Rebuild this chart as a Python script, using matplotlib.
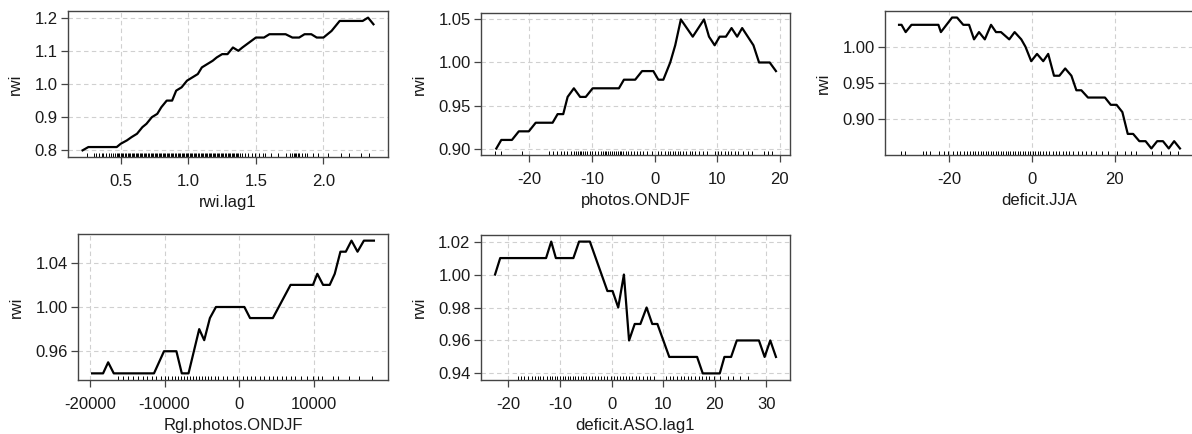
import matplotlib
matplotlib.use("Agg")
import matplotlib.pyplot as plt
from matplotlib.ticker import FormatStrFormatter

plt.rcParams['font.family'] = ['Liberation Sans', 'DejaVu Sans']

# partial dependence curves
rwi_lag1_x = [0.217, 0.26, 0.47, 0.5, 0.545, 0.58, 0.62, 0.66, 0.69, 0.73, 0.77, 0.80, 0.84, 0.88,
              0.91, 0.95, 0.99, 1.03, 1.07, 1.10, 1.14, 1.18, 1.21, 1.25, 1.29, 1.33, 1.37, 1.40,
              1.50, 1.56, 1.60, 1.72, 1.77, 1.82, 1.86, 1.91, 1.95, 2.00, 2.06, 2.12, 2.29, 2.33, 2.37]
rwi_lag1_y = [0.80, 0.81, 0.81, 0.82, 0.83, 0.84, 0.85, 0.87, 0.88, 0.90, 0.91, 0.93, 0.95, 0.95,
              0.98, 0.99, 1.01, 1.02, 1.03, 1.05, 1.06, 1.07, 1.08, 1.09, 1.09, 1.11, 1.10, 1.11,
              1.14, 1.14, 1.15, 1.15, 1.14, 1.14, 1.15, 1.15, 1.14, 1.14, 1.16, 1.19, 1.19, 1.20, 1.18]

photos_x = [-25.3, -24.5, -22.8, -21.7, -20.1, -19.0, -16.3, -15.5, -14.6, -13.9, -12.9, -11.9, -11.0,
            -9.9, -5.7, -4.9, -3.1, -2.0, -0.2, 0.6, 1.4, 2.5, 3.3, 4.2, 6.1, 7.9, 8.7, 9.6, 10.4,
            11.4, 12.3, 13.2, 14.0, 14.9, 15.8, 16.7, 18.4, 19.4]
photos_y = [0.90, 0.91, 0.91, 0.92, 0.92, 0.93, 0.93, 0.94, 0.94, 0.96, 0.97, 0.96, 0.96,
            0.97, 0.97, 0.98, 0.98, 0.99, 0.99, 0.98, 0.98, 1.00, 1.02, 1.05, 1.03, 1.05, 1.03, 1.02, 1.03,
            1.03, 1.04, 1.03, 1.04, 1.03, 1.02, 1.00, 1.00, 0.99]

deficit_jja_x = [-32.1, -31.5, -30.5, -29.1, -22.6, -22.0, -19.3, -18.1, -16.6, -15.2, -14.0, -12.8,
                 -11.4, -9.9, -8.7, -7.5, -5.5, -4.2, -2.6, -1.6, -0.2, 1.2, 2.7, 3.9, 5.3, 6.6, 8.0,
                 9.5, 10.7, 11.9, 13.5, 17.6, 19.0, 20.4, 21.8, 23.1, 24.4, 25.9, 27.4, 28.8, 30.2,
                 31.6, 33.0, 34.3, 35.7]
deficit_jja_y = [1.03, 1.03, 1.02, 1.03, 1.03, 1.02, 1.04, 1.04, 1.03, 1.03, 1.01, 1.02,
                 1.01, 1.03, 1.02, 1.02, 1.01, 1.02, 1.01, 1.00, 0.98, 0.99, 0.98, 0.99, 0.96, 0.96, 0.97,
                 0.96, 0.94, 0.94, 0.93, 0.93, 0.92, 0.92, 0.91, 0.88, 0.88, 0.87, 0.87, 0.86, 0.87,
                 0.87, 0.86, 0.87, 0.86]

rgl_x = [-19700, -18230, -17550, -16800, -11420, -10080, -8420, -7700, -6800, -5370, -4700, -3940,
         -3130, 670, 1430, 4480, 6850, 9850, 10430, 11200, 12090, 12760, 13520, 14240, 15000,
         15810, 16660, 18000]
rgl_y = [0.94, 0.94, 0.95, 0.94, 0.94, 0.96, 0.96, 0.94, 0.94, 0.98, 0.97, 0.99,
         1.00, 1.00, 0.99, 0.99, 1.02, 1.02, 1.03, 1.02, 1.02, 1.03, 1.05, 1.05, 1.06,
         1.05, 1.06, 1.06]

aso_x = [-22.6, -21.6, -12.7, -11.7, -10.8, -7.4, -6.3, -4.2, -0.8, 0.2, 1.3, 2.4, 3.4, 4.5, 5.6,
         6.8, 7.9, 8.9, 11.2, 16.6, 17.7, 21.0, 21.9, 23.2, 24.3, 28.6, 29.7, 30.8, 31.9]
aso_y = [1.00, 1.01, 1.01, 1.02, 1.01, 1.01, 1.02, 1.02, 0.99, 0.99, 0.98, 1.00, 0.96, 0.97, 0.97,
         0.98, 0.97, 0.97, 0.95, 0.95, 0.94, 0.94, 0.95, 0.95, 0.96, 0.96, 0.95, 0.96, 0.95]

# rug marks (observed predictor values)
rug_rwi = [0.25, 0.30, 0.32, 0.34, 0.36, 0.37, 0.39, 0.41, 0.43, 0.44, 0.46, 0.47, 0.48, 0.49, 0.50,
           0.51, 0.52, 0.53, 0.54, 0.55, 0.56, 0.57, 0.58, 0.59, 0.60, 0.61, 0.62, 0.63, 0.64, 0.65,
           0.66, 0.67, 0.68, 0.69, 0.70, 0.71, 0.72, 0.73, 0.74, 0.75, 0.76, 0.77, 0.78, 0.79, 0.80,
           0.81, 0.82, 0.83, 0.84, 0.85, 0.86, 0.87, 0.88, 0.89, 0.90, 0.91, 0.92, 0.93, 0.94, 0.95,
           0.96, 0.97, 0.98, 0.99, 1.00, 1.01, 1.02, 1.03, 1.04, 1.05, 1.06, 1.07, 1.08, 1.09, 1.10,
           1.11, 1.12, 1.13, 1.14, 1.15, 1.16, 1.17, 1.18, 1.19, 1.20, 1.21, 1.22, 1.23, 1.24, 1.25,
           1.26, 1.27, 1.28, 1.29, 1.30, 1.31, 1.32, 1.33, 1.34, 1.35, 1.36, 1.37, 1.38, 1.40, 1.42,
           1.44, 1.47, 1.49, 1.52, 1.55, 1.57, 1.61, 1.66, 1.72, 1.75, 1.77, 1.78, 1.79, 1.80, 1.81,
           1.82, 1.84, 1.86, 1.88, 1.92, 1.96, 2.03, 2.13, 2.19, 2.28, 2.34]
rug_photos = [-25.5, -24.6, -21.2, -16.9, -16.2, -15.6, -15.0, -14.5, -14.0, -13.4, -12.9, -12.6,
              -12.3, -12.0, -11.7, -11.4, -11.1, -10.8, -10.4, -10.0, -9.5, -9.0, -8.6, -8.3, -8.0,
              -7.7, -7.4, -7.1, -6.8, -6.5, -6.2, -5.9, -5.6, -5.3, -5.0, -4.6, -4.2, -3.8, -3.3,
              -2.8, -2.3, -1.8, -1.2, -0.4, 0.5, 1.0, 1.6, 2.1, 2.5, 2.9, 3.3, 3.7, 4.1, 4.6, 5.1,
              5.6, 6.0, 6.5, 7.1, 7.7, 8.4, 9.6, 10.1, 10.6, 11.2, 11.7, 12.2, 12.8, 13.4, 14.1,
              15.0, 15.6, 17.5, 18.2, 18.8]
rug_jja = [-31.6, -30.6, -26.3, -25.5, -24.6, -22.4, -21.3, -20.2, -19.1, -18.2, -17.3, -16.4, -15.6,
           -15.0, -14.3, -13.7, -13.0, -12.4, -11.8, -11.2, -10.6, -10.0, -9.4, -8.8, -8.2, -7.6,
           -7.0, -6.4, -5.8, -5.2, -4.6, -4.0, -3.4, -2.8, -2.2, -1.6, -1.0, -0.4, 0.2, 0.8, 1.4,
           2.0, 2.6, 3.4, 4.2, 5.0, 5.8, 6.6, 7.4, 8.2, 9.0, 10.0, 11.0, 12.0, 13.0, 14.2, 15.4,
           16.8, 18.3, 20.4, 22.5, 23.8, 25.1, 29.0, 31.2, 33.4, 35.3]
rug_rgl = [-16200, -15600, -14900, -14200, -13500, -12900, -12300, -11700, -11100, -10500, -10000,
           -9500, -9000, -8600, -8200, -7800, -7400, -7000, -6600, -6200, -5800, -5400, -5000,
           -4600, -4200, -3800, -3300, -2800, -2200, -1600, -900, -300, 500, 1000, 1500, 2100,
           2700, 3300, 3900, 4500, 5100, 5700, 6300, 6900, 7500, 8200, 9000, 9800, 10500, 11000,
           12500, 13200, 14700, 16000, 17800]
rug_aso = [-18.2, -17.6, -16.9, -16.2, -15.5, -14.9, -14.3, -13.8, -13.2, -12.6, -12.0, -11.5, -11.0,
           -10.5, -10.0, -9.5, -9.0, -8.5, -8.0, -7.5, -7.0, -6.5, -6.0, -5.5, -5.0, -4.4, -3.8,
           -3.2, -2.6, -2.0, -1.4, -0.8, -0.2, 0.4, 1.0, 1.6, 2.2, 2.8, 3.4, 4.0, 4.7, 5.4, 6.1,
           6.8, 7.5, 8.3, 10.6, 11.3, 12.0, 12.7, 13.4, 14.1, 14.8, 15.5, 16.2, 16.9, 17.6, 18.3,
           19.0, 19.8, 21.0, 22.5, 23.5, 25.0, 26.5]

labels = ["rwi.lag1", "photos.ONDJF", "deficit.JJA", "Rgl.photos.ONDJF", "deficit.ASO.lag1"]
xticks = [[0.5, 1.0, 1.5, 2.0], [-20, -10, 0, 10, 20], [-20, 0, 20],
          [-20000, -10000, 0, 10000], [-20, -10, 0, 10, 20, 30]]
yticks = [[0.8, 0.9, 1.0, 1.1, 1.2], [0.90, 0.95, 1.00, 1.05], [0.90, 0.95, 1.00],
          [0.96, 1.00, 1.04], [0.94, 0.96, 0.98, 1.00, 1.02]]
yfmt = ["%.1f", "%.2f", "%.2f", "%.2f", "%.2f"]
xfmt = ["%.1f", "%d", "%d", "%d", "%d"]

W, H = 1192, 434
fig = plt.figure(figsize=(W / 100, H / 100), dpi=100)

# axes boxes in pixels: left, right, top, bottom
boxes = [(68, 388, 11, 157), (481, 790, 13, 155), (885, 1194, 11, 155),
         (78, 388, 234, 380), (481, 790, 235, 380)]

data = [(rwi_lag1_x, rwi_lag1_y, rug_rwi), (photos_x, photos_y, rug_photos),
        (deficit_jja_x, deficit_jja_y, rug_jja), (rgl_x, rgl_y, rug_rgl), (aso_x, aso_y, rug_aso)]

for i, (l, r, t, b) in enumerate(boxes):
    ax = fig.add_axes([l / W, 1 - b / H, (r - l) / W, (b - t) / H])
    x, y, rug = data[i]
    ax.plot(x, y, color="black", lw=1.6, zorder=3)
    ax.vlines(rug, 0, 0.03, transform=ax.get_xaxis_transform(), color="black", lw=0.7, zorder=2)
    ax.margins(x=0.05, y=0.05)
    ax.set_xticks(xticks[i])
    ax.set_yticks(yticks[i])
    ax.xaxis.set_major_formatter(FormatStrFormatter(xfmt[i]))
    ax.yaxis.set_major_formatter(FormatStrFormatter(yfmt[i]))
    ax.grid(True, color="#d0d0d0", linestyle=(0, (4, 3)), lw=0.8)
    ax.set_axisbelow(True)
    for s in ax.spines.values():
        s.set_color("#444444")
        s.set_linewidth(1.0)
    ax.tick_params(direction="out", length=5, width=0.9, color="#444444",
                   labelsize=12, labelcolor="#1a1a1a")
    ax.tick_params(axis="x", pad=7)
    ax.tick_params(axis="y", pad=2.5)
    ax.set_xlabel(labels[i], fontsize=12, color="#1a1a1a", labelpad=4.5)
    ax.set_ylabel("rwi", fontsize=12, color="#1a1a1a", labelpad=8)

fig.savefig("out.png", dpi=100)
